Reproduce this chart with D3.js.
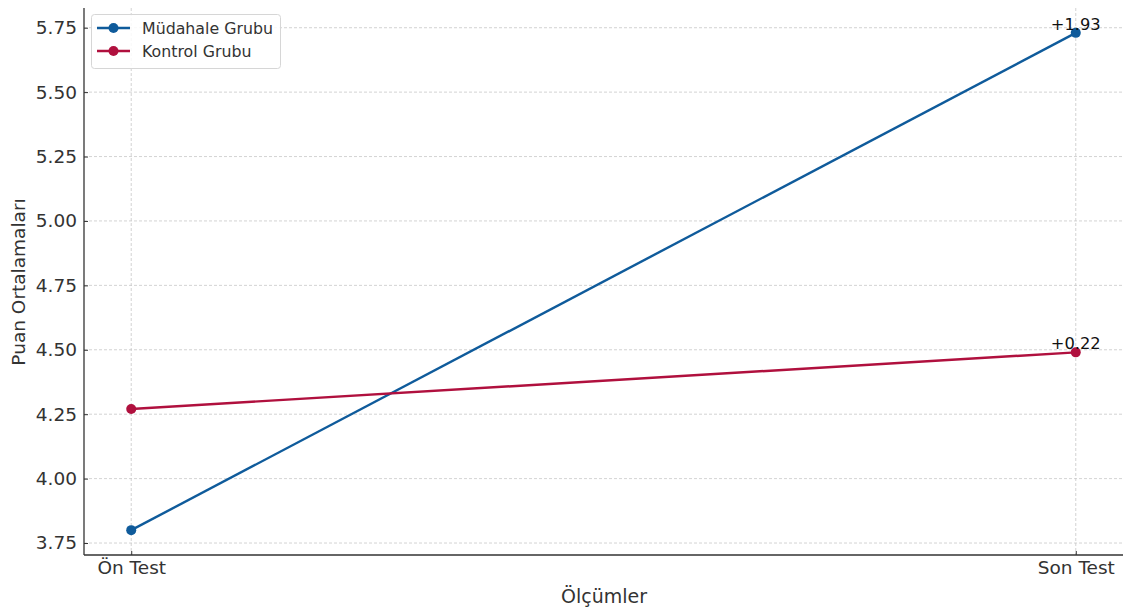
<!DOCTYPE html>
<html><head><meta charset="utf-8">
<script src="https://cdn.jsdelivr.net/npm/d3@7"></script>
<style>body{margin:0;background:#fff;} text{font-family:"DejaVu Sans",sans-serif;}</style>
</head><body>
<svg id="c" width="1129" height="612"></svg>
<script>
const categories = ["Ön Test", "Son Test"];
const seriesNames = ["Müdahale Grubu", "Kontrol Grubu"];
const mudahale = [3.80, 5.73];
const kontrol = [4.27, 4.49];
const diffLabels = ["+1.93", "+0.22"];
const yTicks = [3.75, 4.00, 4.25, 4.50, 4.75, 5.00, 5.25, 5.50, 5.75];
const colors = ["#0f5b9b", "#b0103e"];

const svg = d3.select("#c");
const L = 84, R = 1123, T = 8, B = 555;
const x = d3.scaleLinear().domain([-0.05, 1.05]).range([L, R]);
const y = d3.scaleLinear().domain([3.7035, 5.8265]).range([B, T]);

// grid
const g = svg.append("g");
g.selectAll(".hg").data(yTicks).join("line")
  .attr("x1", L).attr("x2", R).attr("y1", d => y(d)).attr("y2", d => y(d))
  .attr("stroke", "#c8c8c8").attr("stroke-width", 0.8).attr("stroke-dasharray", "3,2");
g.selectAll(".vg").data(categories).join("line")
  .attr("x1", (d,i) => x(i)).attr("x2", (d,i) => x(i)).attr("y1", T).attr("y2", B)
  .attr("stroke", "#c8c8c8").attr("stroke-width", 0.8).attr("stroke-dasharray", "3,2");

// axes
const yAxis = d3.axisLeft(y).tickValues(yTicks).tickFormat(d3.format(".2f")).tickSizeInner(-4).tickSizeOuter(0).tickPadding(7);
const ya = svg.append("g").attr("transform", `translate(${L},0)`).call(yAxis);
ya.select(".domain").attr("stroke", "#333").attr("stroke-width", 1.3).attr("d", `M0,${T}V${B}`);
ya.selectAll("text").attr("font-size", 18.5).attr("fill", "#333");
ya.selectAll(".tick line").attr("stroke", "#333");

const xAxis = d3.axisBottom(x).tickValues([0, 1]).tickFormat(i => categories[i]).tickSizeInner(-4).tickSizeOuter(0).tickPadding(6);
const xa = svg.append("g").attr("transform", `translate(0,${B})`).call(xAxis);
xa.select(".domain").attr("stroke", "#333").attr("stroke-width", 1.3).attr("d", `M${L},0H${R}`);
xa.selectAll("text").attr("font-size", 18.5).attr("fill", "#333");
xa.selectAll(".tick line").attr("stroke", "#333");

// axis labels
svg.append("text").attr("x", 604).attr("y", 603).attr("text-anchor", "middle")
  .attr("font-size", 19).attr("fill", "#333").text("Ölçümler");
svg.append("text").attr("transform", "translate(25,282) rotate(-90)").attr("text-anchor", "middle")
  .attr("font-size", 18.5).attr("fill", "#333").text("Puan Ortalamaları");

// lines
const data = [mudahale, kontrol];
const line = d3.line().x((d,i) => x(i)).y(d => y(d));
data.forEach((s, k) => {
  svg.append("path").datum(s).attr("d", line).attr("fill", "none")
    .attr("stroke", colors[k]).attr("stroke-width", 2.4);
  svg.selectAll(null).data(s).join("circle")
    .attr("cx", (d,i) => x(i)).attr("cy", d => y(d)).attr("r", 5).attr("fill", colors[k]);
  svg.append("text").attr("x", x(1)).attr("y", y(s[1]) - 3).attr("text-anchor", "middle")
    .attr("font-size", 16.3).attr("fill", "#111").text(diffLabels[k]);
});

// legend
const lg = svg.append("g");
lg.append("rect").attr("x", 91.5).attr("y", 14.5).attr("width", 189).attr("height", 54).attr("rx", 3)
  .attr("fill", "#fff").attr("fill-opacity", 0.85).attr("stroke", "#d6d6d6");
seriesNames.forEach((n, k) => {
  const yy = 28 + k * 23;
  lg.append("line").attr("x1", 97).attr("x2", 130).attr("y1", yy).attr("y2", yy)
    .attr("stroke", colors[k]).attr("stroke-width", 2.4);
  lg.append("circle").attr("cx", 113.5).attr("cy", yy).attr("r", 5).attr("fill", colors[k]);
  lg.append("text").attr("x", 142).attr("y", yy + 5.5).attr("font-size", 15.8).attr("fill", "#333").text(n);
});
</script>
</body></html>
